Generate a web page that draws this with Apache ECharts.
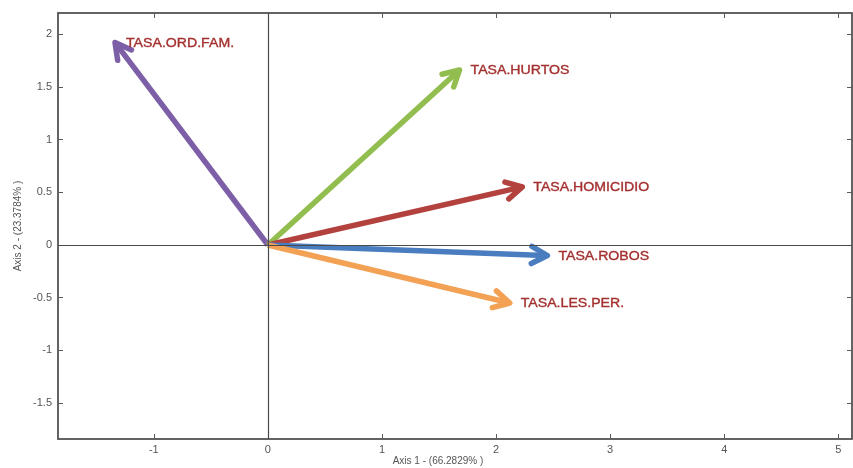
<!DOCTYPE html>
<html>
<head>
<meta charset="utf-8">
<script src="https://cdn.jsdelivr.net/npm/echarts@6/dist/echarts.min.js"></script>
<style>
html,body{margin:0;padding:0;background:#fff;}
#chart{width:853px;height:468px;}
</style>
</head>
<body>
<div id="chart"></div>
<script>
// Variables (loadings on the two axes)
const variables = ['TASA.ORD.FAM.', 'TASA.HURTOS', 'TASA.HOMICIDIO', 'TASA.ROBOS', 'TASA.LES.PER.'];
const axis1Values = [-1.34, 1.68, 2.23, 2.45, 2.12];
const axis2Values = [1.92, 1.66, 0.55, -0.10, -0.55];
const arrowColors = ['#7d5fa8', '#92bd4f', '#b3413e', '#4a7dbf', '#f2a155'];
const xTicks = [-1, 0, 1, 2, 3, 4, 5];
const yTicks = [-1.5, -1, -0.5, 0, 0.5, 1, 1.5, 2];
const xName = 'Axis 1 - (66.2829% )';
const yName = 'Axis 2 - (23.3784% )';

const chart = echarts.init(document.getElementById('chart'));
const data = variables.map((n, i) => [axis1Values[i], axis2Values[i], n, i]);

const FRAME = '#5a5a5a';
const xMin = -1.84, xMax = 5.12, yMin = -1.84, yMax = 2.2;

function renderArrow(params, api) {
  const x = api.value(0), y = api.value(1);
  const idx = api.value(3);
  const name = variables[idx];
  const o = api.coord([0, 0]);
  const t = api.coord([x, y]);
  const dx = t[0] - o[0], dy = t[1] - o[1];
  const len = Math.sqrt(dx * dx + dy * dy);
  const ux = dx / len, uy = dy / len;
  const headLen = 18, ang = 0.5;
  const back = Math.atan2(-uy, -ux);
  const a1 = [t[0] + headLen * Math.cos(back + ang), t[1] + headLen * Math.sin(back + ang)];
  const a2 = [t[0] + headLen * Math.cos(back - ang), t[1] + headLen * Math.sin(back - ang)];
  const color = arrowColors[idx];
  return {
    type: 'group',
    children: [
      { type: 'line', shape: { x1: o[0], y1: o[1], x2: t[0] - ux * 3, y2: t[1] - uy * 3 },
        style: { stroke: color, lineWidth: 5.5, lineCap: 'butt' } },
      { type: 'polyline', shape: { points: [a1, t, a2] },
        style: { stroke: color, lineWidth: 5.5, fill: null, lineJoin: 'round', lineCap: 'round' } },
      { type: 'text', x: t[0] + 11, y: t[1] + 1, scaleX: 1.13,
        style: { text: name, fill: '#a3302e', font: '12.5px "Liberation Sans", Arial, sans-serif',
                 verticalAlign: 'middle', align: 'left', stroke: '#a3302e', lineWidth: 0.35 } }
    ]
  };
}

const labelStyle = { color: '#555', fontSize: 11, fontFamily: '"Liberation Sans", Arial, sans-serif' };

chart.setOption({
  backgroundColor: '#fff',
  animation: false,
  grid: { left: 58, right: 1, top: 13, bottom: 29, show: true, borderColor: FRAME, borderWidth: 1.5,
          outerBoundsMode: 'none', containLabel: false },
  xAxis: [{
    type: 'value', min: xMin, max: xMax, position: 'bottom',
    name: xName, nameLocation: 'middle', nameGap: 17, nameMoveOverlap: false,
    nameTextStyle: { color: '#555', fontSize: 10, fontFamily: '"Liberation Sans", Arial, sans-serif', padding: [0, 34, 0, 0] },
    axisLine: { show: true, onZero: false, lineStyle: { color: FRAME, width: 1.5 } },
    axisTick: { show: true, inside: true, length: 5, customValues: xTicks, lineStyle: { color: FRAME } },
    axisLabel: { show: true, customValues: xTicks, margin: 5, ...labelStyle },
    splitLine: { show: false }
  }, {
    type: 'value', min: xMin, max: xMax, position: 'top',
    axisLine: { show: true, onZero: false, lineStyle: { color: FRAME, width: 1.5 } },
    axisTick: { show: true, inside: true, length: 5, customValues: xTicks, lineStyle: { color: FRAME } },
    axisLabel: { show: false }, splitLine: { show: false }
  }],
  yAxis: [{
    type: 'value', min: yMin, max: yMax, position: 'left',
    name: yName, nameLocation: 'middle', nameGap: 35, nameMoveOverlap: false,
    nameTextStyle: { color: '#555', fontSize: 10, fontFamily: '"Liberation Sans", Arial, sans-serif' },
    axisLine: { show: true, onZero: false, lineStyle: { color: FRAME, width: 1.5 } },
    axisTick: { show: true, inside: true, length: 5, customValues: yTicks, lineStyle: { color: FRAME } },
    axisLabel: { show: true, customValues: yTicks, margin: 6, ...labelStyle },
    splitLine: { show: false }
  }, {
    type: 'value', min: yMin, max: yMax, position: 'right',
    axisLine: { show: true, onZero: false, lineStyle: { color: FRAME, width: 1.5 } },
    axisTick: { show: true, inside: true, length: 5, customValues: yTicks, lineStyle: { color: FRAME } },
    axisLabel: { show: false }, splitLine: { show: false }
  }],
  series: [{
    type: 'line', data: [], xAxisIndex: 0, yAxisIndex: 0, silent: true,
    markLine: {
      silent: true, symbol: 'none', label: { show: false },
      lineStyle: { color: '#4a4a4a', width: 1.2, type: 'solid' },
      data: [{ xAxis: 0 }, { yAxis: 0 }]
    }
  }, {
    type: 'custom', xAxisIndex: 0, yAxisIndex: 0, silent: true,
    renderItem: renderArrow, data: data, clip: false
  }]
});
</script>
</body>
</html>
